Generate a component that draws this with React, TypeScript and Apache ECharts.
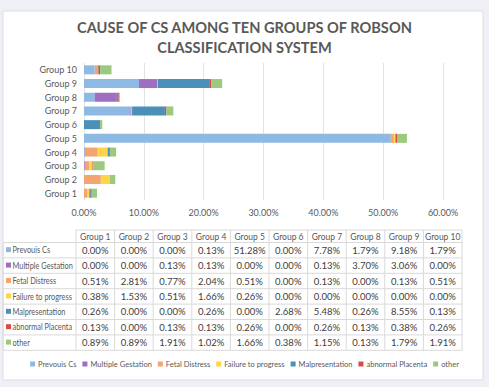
import React, { useEffect, useRef } from "react";
import * as echarts from "echarts";

const groups = ["Group 1", "Group 2", "Group 3", "Group 4", "Group 5", "Group 6", "Group 7", "Group 8", "Group 9", "Group 10"];
const seriesNames = ["Prevouis Cs", "Multiple Gestation", "Fetal Distress", "Failure to progress", "Malpresentation", "abnormal Placenta", "other"];
const seriesColors = ["#8DB9E3", "#9E6FC0", "#F3A46F", "#FFD447", "#4A90B8", "#D94A4A", "#9CC97E"];
const previousCs = [0.0, 0.0, 0.0, 0.13, 51.28, 0.0, 7.78, 1.79, 9.18, 1.79];
const multipleGestation = [0.0, 0.0, 0.13, 0.13, 0.0, 0.0, 0.13, 3.7, 3.06, 0.0];
const fetalDistress = [0.51, 2.81, 0.77, 2.04, 0.51, 0.0, 0.13, 0.0, 0.13, 0.51];
const failureToProgress = [0.38, 1.53, 0.51, 1.66, 0.26, 0.0, 0.0, 0.0, 0.0, 0.0];
const malpresentation = [0.26, 0.0, 0.0, 0.26, 0.0, 2.68, 5.48, 0.26, 8.55, 0.13];
const abnormalPlacenta = [0.13, 0.0, 0.13, 0.13, 0.26, 0.0, 0.26, 0.13, 0.38, 0.26];
const other = [0.89, 0.89, 1.91, 1.02, 1.66, 0.38, 1.15, 0.13, 1.79, 1.91];
const xMin = 0;
const xMax = 60;
const xInterval = 10;

const allSeries = [previousCs, multipleGestation, fetalDistress, failureToProgress, malpresentation, abnormalPlacenta, other];

const fmt = (v: number) => v.toFixed(2) + "%";

export default function App() {
  const ref = useRef<HTMLDivElement>(null);
  useEffect(() => {
    if (!ref.current) return;
    const chart = echarts.init(ref.current, undefined, { renderer: "svg" });
    const font = "Lato, 'Open Sans', sans-serif";
    const textColor = "#595959";
    const lineColor = "#D9D9D9";

    // table geometry
    const tLeft = 3;
    const tLabelRight = 76;
    const tRight = 462;
    const colW = (tRight - tLabelRight) / groups.length;
    const headTop = 230;
    const headBottom = 242.5;
    const rowH = 15.4;
    const tBottom = headBottom + rowH * seriesNames.length;

    const tableEls: any[] = [];
    tableEls.push({ type: "line", shape: { x1: tLabelRight, y1: headTop, x2: tRight, y2: headTop }, style: { stroke: lineColor, lineWidth: 1 } });
    for (let r = 0; r <= seriesNames.length; r++) {
      const y = headBottom + r * rowH;
      tableEls.push({ type: "line", shape: { x1: tLeft, y1: y, x2: tRight, y2: y }, style: { stroke: lineColor, lineWidth: 1 } });
    }
    tableEls.push({ type: "line", shape: { x1: tLeft, y1: headBottom, x2: tLeft, y2: tBottom }, style: { stroke: lineColor, lineWidth: 1 } });
    for (let c = 0; c <= groups.length; c++) {
      const x = tLabelRight + c * colW;
      tableEls.push({ type: "line", shape: { x1: x, y1: headTop, x2: x, y2: tBottom }, style: { stroke: lineColor, lineWidth: 1 } });
    }
    groups.forEach((g, c) => {
      tableEls.push({
        type: "text",
        x: tLabelRight + (c + 0.5) * colW,
        y: (headTop + headBottom) / 2 + 0.5,
        style: { text: g, fontSize: 8.5, fill: textColor, align: "center", verticalAlign: "middle", fontFamily: font },
      });
    });
    seriesNames.forEach((name, r) => {
      const cy = headBottom + (r + 0.5) * rowH;
      tableEls.push({ type: "rect", shape: { x: 6, y: cy - 3, width: 5, height: 5 }, style: { fill: seriesColors[r] } });
      tableEls.push({
        type: "text",
        x: 12.5,
        y: cy,
        scaleX: 0.82,
        style: { text: name, fontSize: 9, fill: textColor, align: "left", verticalAlign: "middle", fontFamily: font },
      });
      allSeries[r].forEach((v, c) => {
        tableEls.push({
          type: "text",
          x: tLabelRight + (c + 0.5) * colW,
          y: cy,
          style: { text: fmt(v), fontSize: 9.5, fill: "#404040", align: "center", verticalAlign: "middle", fontFamily: font },
        });
      });
    });

    chart.setOption({
      animation: false,
      backgroundColor: "#EEF0F5",
      textStyle: { fontFamily: font },
      title: {
        text: "CAUSE OF CS AMONG TEN GROUPS OF ROBSON\nCLASSIFICATION SYSTEM",
        left: "center",
        top: 12,
        textStyle: { fontSize: 14.6, fontWeight: "bold", color: textColor, lineHeight: 20, fontFamily: font },
      },
      graphic: [
        { type: "rect", z: -100, shape: { x: 3, y: 11, width: 480, height: 369 }, style: { fill: "#FFFFFF", stroke: "#DADDE3", lineWidth: 1 } },
        { type: "group", children: tableEls },
      ],
      legend: {
        top: 360,
        left: "center",
        padding: 0,
        itemWidth: 5,
        itemHeight: 5,
        itemGap: 6,
        icon: "rect",
        textStyle: { fontSize: 7.5, color: textColor, fontFamily: font, padding: [0, 0, 0, -2] },
        data: seriesNames,
      },
      grid: { left: 84, right: 46, top: 63, bottom: 187, containLabel: false },
      xAxis: {
        type: "value",
        min: xMin,
        max: xMax,
        interval: xInterval,
        axisLine: { show: false },
        axisTick: { show: false },
        splitLine: { show: true, lineStyle: { color: "#E3E3E3", width: 1 } },
        axisLabel: { formatter: (v: number) => fmt(v), fontSize: 9, color: textColor, margin: 8, fontFamily: font },
      },
      yAxis: {
        type: "category",
        data: groups,
        axisLine: { show: false },
        axisTick: { show: false },
        axisLabel: { fontSize: 9, color: textColor, margin: 7, fontFamily: font },
      },
      series: seriesNames.map((name, i) => ({
        name,
        type: "bar",
        stack: "total",
        barWidth: 9,
        data: allSeries[i],
        itemStyle: { color: seriesColors[i] },
      })),
    });
    return () => chart.dispose();
  }, []);
  return <div ref={ref} style={{ position: "fixed", left: 0, top: 0, width: 489, height: 387 }} />;
}
